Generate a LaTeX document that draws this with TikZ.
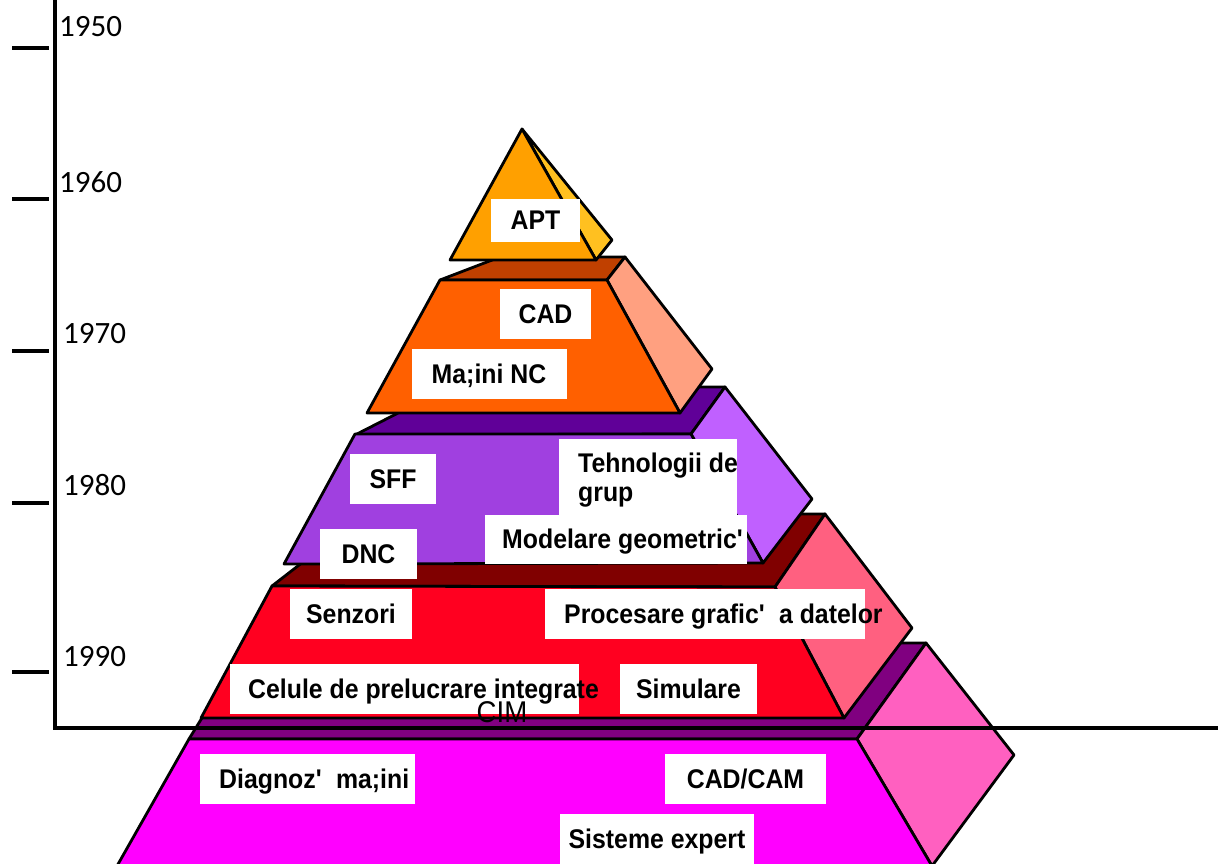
\documentclass[tikz,border=0pt]{standalone}
\usepackage{fontspec}
\newfontfamily\labf[FakeStretch=0.92]{Liberation Sans}
\newfontfamily\yearf{Carlito}
\begin{document}
\begin{tikzpicture}[x=1pt,y=-1pt,
  face/.style={draw=black, line width=2.8pt, line join=round},
  wbox/.style={fill=white, inner sep=0pt, text height=20pt, text depth=2pt, font=\labf\bfseries\fontsize{27}{29}\selectfont},
  lbl/.style={inner sep=0pt, text height=20pt, text depth=2pt, font=\labf\bfseries\fontsize{27}{29}\selectfont},
  yr/.style={inner sep=0pt, anchor=west, text height=19.6pt, text depth=0pt, font=\yearf\fontsize{31}{31}\selectfont},
  axisline/.style={line width=4.5pt}]
\definecolor{pinkF}{HTML}{FF00FF}
\definecolor{pinkS}{HTML}{FF60C0}
\definecolor{pinkT}{HTML}{800080}
\definecolor{redF}{HTML}{FF0020}
\definecolor{redS}{HTML}{FF6080}
\definecolor{redT}{HTML}{800000}
\definecolor{purF}{HTML}{A040E0}
\definecolor{purS}{HTML}{C060FF}
\definecolor{purT}{HTML}{600098}
\definecolor{orF}{HTML}{FF6000}
\definecolor{orS}{HTML}{FFA080}
\definecolor{orT}{HTML}{C04000}
\definecolor{aptF}{HTML}{FFA000}
\definecolor{aptS}{HTML}{FFC020}
\clip (0,0) rectangle (1218,864);
\fill[white] (0,0) rectangle (1218,864);
% ---- bottom layer (pink)
\filldraw[face, fill=pinkT] (189,739) -- (248,643) -- (926,643) -- (857,739) -- cycle;
\filldraw[face, fill=pinkS] (857,739) -- (926,643) -- (1014,755) -- (932,866) -- cycle;
\filldraw[face, fill=pinkF] (189,739) -- (857,739) -- (932,866) -- (117,866) -- cycle;
\node[wbox, minimum width=215pt, minimum height=50pt] (diagB) at (307.5,779) {};
\node[lbl, anchor=west] (diag) at (219,779) {Diagnoz\textquotesingle\ \ ma;ini};
\node[wbox, minimum width=161pt, minimum height=50pt] (cadcam) at (745.5,779) {CAD/CAM};
\node[wbox, minimum width=194pt, minimum height=50pt] (sist) at (657,839) {Sisteme expert};
% ---- red layer
\filldraw[face, fill=redT] (272,586) -- (365,514) -- (825,514) -- (775,587) -- cycle;
\filldraw[face, fill=redS] (775,587) -- (825,514) -- (912,628) -- (844,718) -- cycle;
\filldraw[face, fill=redF] (272,586) -- (775,587) -- (844,718) -- (201,718) -- cycle;
\node[wbox, minimum width=122pt, minimum height=50pt] (senz) at (351,614) {Senzori};
\node[wbox, minimum width=320pt, minimum height=50pt] (procB) at (705,614) {};
\node[lbl, anchor=west] (proc) at (564,614) {Procesare grafic\textquotesingle\ \ a datelor};
\node[wbox, minimum width=349pt, minimum height=50pt] (celB) at (404.5,689) {};
\node[lbl, anchor=west] (cel) at (248,689) {Celule de prelucrare integrate};
\node[wbox, minimum width=137pt, minimum height=50pt] (sim) at (688.5,689) {Simulare};
\node[inner sep=0pt, text height=21pt, text depth=0pt, font=\labf\fontsize{30}{30}\selectfont] (cim) at (502,712) {CIM};
% ---- purple layer
\filldraw[face, fill=purT] (355,435) -- (449,387) -- (725,387) -- (691,434) -- cycle;
\filldraw[face, fill=purS] (691,434) -- (725,387) -- (812,499) -- (763,563) -- cycle;
\filldraw[face, fill=purF] (355,434) -- (691,434) -- (763,563) -- (284,564) -- cycle;
\node[wbox, minimum width=86pt, minimum height=50pt] (sff) at (393,479) {SFF};
\node[wbox, minimum width=178pt, minimum height=78pt] (tehB) at (648,478) {};
\node[lbl, anchor=west] (teh1) at (578,463) {Tehnologii de};
\node[lbl, anchor=west] (teh2) at (578,492) {grup};
\node[wbox, minimum width=262pt, minimum height=49pt] (modB) at (616,539.5) {};
\node[lbl, anchor=west] (mod) at (502,539.5) {Modelare geometric\textquotesingle};
\node[wbox, minimum width=97pt, minimum height=50pt] (dnc) at (368.5,554) {DNC};
% ---- orange layer
\filldraw[face, fill=orT] (440,280) -- (500,257) -- (625,257) -- (607,280) -- cycle;
\filldraw[face, fill=orS] (607,280) -- (625,257) -- (712,369) -- (680,413) -- cycle;
\filldraw[face, fill=orF] (440,280) -- (607,280) -- (680,413) -- (367,413) -- cycle;
\node[wbox, minimum width=91pt, minimum height=50pt] (cad) at (545.5,314) {CAD};
\node[wbox, minimum width=155pt, minimum height=50pt] (mnc) at (489,374) {Ma;ini NC};
% ---- top (APT)
\filldraw[face, fill=aptS] (522,129) -- (612,240) -- (596,260) -- cycle;
\filldraw[face, fill=aptF] (522,129) -- (596,260) -- (450,260) -- cycle;
\node[wbox, minimum width=89pt, minimum height=43pt] (apt) at (535.5,220.5) {APT};
% ---- axes
\draw[axisline, line join=miter] (55,-5) -- (55,728) -- (1225,728);
\foreach \yy in {48,199,351,503,672} \draw[axisline] (12,\yy) -- (49,\yy);
\node[yr] (y1950) at (59,27) {1950};
\node[yr] (y1960) at (59,183) {1960};
\node[yr] (y1970) at (63,334) {1970};
\node[yr] (y1980) at (63,486) {1980};
\node[yr] (y1990) at (63,657) {1990};
\end{tikzpicture}
\end{document}
